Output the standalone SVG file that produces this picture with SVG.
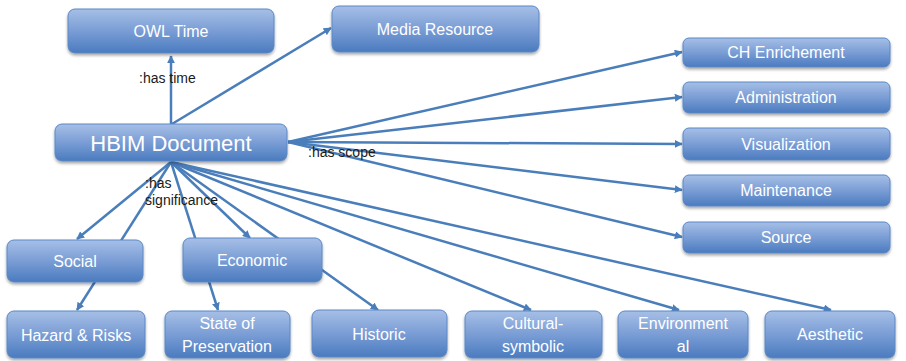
<svg xmlns="http://www.w3.org/2000/svg" width="906" height="361" viewBox="0 0 906 361">
  <defs>
    <linearGradient id="boxFill" x1="0" y1="0" x2="0" y2="1">
      <stop offset="0" stop-color="#a6bfe6"/>
      <stop offset="0.5" stop-color="#7a9dd5"/>
      <stop offset="1" stop-color="#4a7bbf"/>
    </linearGradient>
    <filter id="shadow" x="-10%" y="-20%" width="120%" height="150%">
      <feGaussianBlur in="SourceAlpha" stdDeviation="1.5"/>
      <feOffset dx="0" dy="2" result="b"/>
      <feComponentTransfer><feFuncA type="linear" slope="0.35"/></feComponentTransfer>
      <feMerge><feMergeNode/><feMergeNode in="SourceGraphic"/></feMerge>
    </filter>
    <marker id="arrow" viewBox="0 0 10 10" refX="9" refY="5" markerWidth="8" markerHeight="8" markerUnits="userSpaceOnUse" orient="auto">
      <path d="M0,0 L10,5 L0,10 z" fill="#4a7ebb"/>
    </marker>
  </defs>
  <style>
    .box { fill: url(#boxFill); stroke: #5a88c6; stroke-width: 1; filter: url(#shadow); }
    .lbl { font-family: "Liberation Sans", Arial, sans-serif; font-size: 16px; fill: #ffffff; text-anchor: middle; }
    .big { font-size: 22px; }
    .edge { stroke: #4a7ebb; stroke-width: 2.5; fill: none; }
    .arr { marker-end: url(#arrow); }
    .rel { font-family: "Liberation Sans", Arial, sans-serif; font-size: 14px; fill: #1a1a1a; }
  </style>

  <!-- connectors -->
  <g id="connectors">
    <line class="edge arr" x1="171" y1="124" x2="171" y2="56"/>
    <line class="edge arr" x1="172" y1="124" x2="331" y2="28"/>

    <line class="edge arr" x1="288" y1="142" x2="682" y2="52"/>
    <line class="edge arr" x1="288" y1="142" x2="682" y2="97"/>
    <line class="edge arr" x1="288" y1="142" x2="682" y2="144"/>
    <line class="edge arr" x1="288" y1="142" x2="682" y2="190"/>
    <line class="edge arr" x1="288" y1="142" x2="682" y2="237"/>

    <line class="edge arr" x1="171" y1="162" x2="77" y2="239"/>
    <line class="edge arr" x1="171" y1="162" x2="77" y2="310"/>
    <line class="edge arr" x1="171" y1="162" x2="218" y2="310"/>
    <line class="edge arr" x1="171" y1="162" x2="250" y2="238"/>
    <line class="edge arr" x1="171" y1="162" x2="378" y2="310"/>
    <line class="edge arr" x1="171" y1="162" x2="531" y2="310"/>
    <line class="edge arr" x1="171" y1="162" x2="679" y2="310"/>
    <line class="edge arr" x1="171" y1="162" x2="831" y2="310"/>
  </g>

  <!-- relation labels -->
  <text class="rel" x="139" y="83">:has time</text>
  <text class="rel" x="308" y="157">:has scope</text>
  <text class="rel" x="145" y="188">:has</text>
  <text class="rel" x="145" y="205">significance</text>

  <!-- nodes -->
  <g id="owl-time">
    <rect class="box" x="68" y="9" width="206" height="44" rx="7"/>
    <text class="lbl" x="171" y="37">OWL Time</text>
  </g>
  <g id="media-resource">
    <rect class="box" x="332" y="6" width="207" height="46" rx="7"/>
    <text class="lbl" x="435" y="35">Media Resource</text>
  </g>
  <g id="hbim-document">
    <rect class="box" x="55" y="124" width="232" height="37" rx="7"/>
    <text class="lbl big" x="171" y="151">HBIM Document</text>
  </g>
  <g id="ch-enrichement">
    <rect class="box" x="683" y="38" width="207" height="29" rx="6"/>
    <text class="lbl" x="786" y="58">CH Enrichement</text>
  </g>
  <g id="administration">
    <rect class="box" x="683" y="82" width="207" height="31" rx="6"/>
    <text class="lbl" x="786" y="103">Administration</text>
  </g>
  <g id="visualization">
    <rect class="box" x="683" y="128" width="207" height="32" rx="6"/>
    <text class="lbl" x="786" y="150">Visualization</text>
  </g>
  <g id="maintenance">
    <rect class="box" x="683" y="175" width="207" height="31" rx="6"/>
    <text class="lbl" x="786" y="196">Maintenance</text>
  </g>
  <g id="source">
    <rect class="box" x="683" y="222" width="207" height="31" rx="6"/>
    <text class="lbl" x="786" y="243">Source</text>
  </g>
  <g id="social">
    <rect class="box" x="7" y="240" width="136" height="42" rx="7"/>
    <text class="lbl" x="75" y="267">Social</text>
  </g>
  <g id="economic">
    <rect class="box" x="183" y="238" width="139" height="44" rx="7"/>
    <text class="lbl" x="252" y="266">Economic</text>
  </g>
  <g id="hazard-risks">
    <rect class="box" x="7" y="311" width="138" height="47" rx="7"/>
    <text class="lbl" x="76" y="341">Hazard &amp; Risks</text>
  </g>
  <g id="state-of-preservation">
    <rect class="box" x="165" y="311" width="125" height="47" rx="7"/>
    <text class="lbl" x="227" y="329">State of</text>
    <text class="lbl" x="227" y="352">Preservation</text>
  </g>
  <g id="historic">
    <rect class="box" x="312" y="310" width="135" height="47" rx="7"/>
    <text class="lbl" x="379" y="340">Historic</text>
  </g>
  <g id="cultural-symbolic">
    <rect class="box" x="465" y="311" width="137" height="47" rx="7"/>
    <text class="lbl" x="533" y="329">Cultural-</text>
    <text class="lbl" x="533" y="352">symbolic</text>
  </g>
  <g id="environmental">
    <rect class="box" x="618" y="311" width="130" height="47" rx="7"/>
    <text class="lbl" x="683" y="329">Environment</text>
    <text class="lbl" x="683" y="352">al</text>
  </g>
  <g id="aesthetic">
    <rect class="box" x="765" y="311" width="130" height="47" rx="7"/>
    <text class="lbl" x="830" y="340">Aesthetic</text>
  </g>
</svg>
